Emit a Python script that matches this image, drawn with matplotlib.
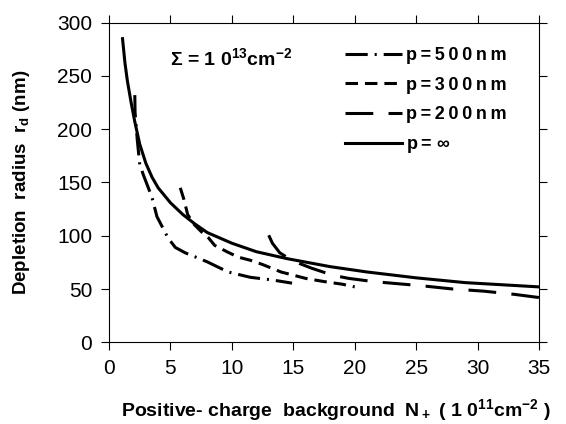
import matplotlib
matplotlib.use('Agg')
import matplotlib.pyplot as plt

plt.rcParams['font.family'] = ['Liberation Sans', 'DejaVu Sans']
plt.rcParams['mathtext.default'] = 'regular'
plt.rcParams['lines.scale_dashes'] = False

# p = infinity (solid)
x_inf = [1.1, 1.3, 1.5, 1.8, 2.1, 2.5, 3.0, 3.5, 4.0, 5.0, 6.0, 7.0, 8.0,
         10.0, 12.0, 14.5, 18.0, 21.0, 25.0, 29.0, 35.0]
y_inf = [285, 262, 245, 225, 207, 186, 168, 155, 145, 131, 120, 111, 103,
         93, 85, 78.5, 71, 66, 60.5, 56, 52]

# p = 500 nm (dash-dot)
x_500 = [2.1, 2.12, 2.3, 2.5, 2.8, 3.5, 3.9, 4.8, 5.4, 6.2, 8.0, 8.8, 9.7,
         11.5, 13.3, 14.9]
y_500 = [232, 216, 190, 167, 157, 136, 118, 98, 89, 84, 75.5, 71, 66,
         61, 58.5, 55.5]

# p = 300 nm (short dash)
x_300 = [5.8, 6.1, 6.4, 6.9, 7.5, 8.1, 8.6, 9.6, 10.5, 11.5, 12.5, 14.0,
         15.0, 16.0, 17.5, 19.0, 20.0]
y_300 = [145, 134, 120, 111, 104, 98, 91, 85, 80, 77, 73, 66,
         63, 60, 57, 54.5, 52]

# p = 200 nm (long dash)
x_200 = [13.0, 13.3, 13.9, 14.6, 15.5, 16.5, 18.2, 19.5, 21.5, 23.5, 25.5,
         28.0, 30.5, 33.0, 35.0]
y_200 = [100.5, 93, 84, 79, 74, 69.5, 63, 60, 57, 55, 53,
         50, 48, 45, 42]

xticks = [0, 5, 10, 15, 20, 25, 30, 35]
yticks = [0, 50, 100, 150, 200, 250, 300]

TS = '\u2009'   # thin space, the original print is letter-spaced


def spaced(s):
    return TS.join(s)


fig = plt.figure(figsize=(5.66, 4.24), dpi=100)
ax = fig.add_axes([0.1926, 0.1927, 0.7597, 0.7538])

lw = 2.2
ax.plot(x_500, y_500, color='black', lw=lw, dashes=(16, 5, 1.5, 5),
        label=spaced('p=500nm'))
ax.plot(x_300, y_300, color='black', lw=lw, dashes=(9, 5),
        label=spaced('p=300nm'))
ax.plot(x_200, y_200, color='black', lw=lw, dashes=(20, 11),
        label=spaced('p=200nm'))
ax.plot(x_inf, y_inf, color='black', lw=lw,
        label=spaced('p=') + ' $\\infty$')

ax.set_xlim(0, 35)
ax.set_ylim(0, 300)
ax.set_xticks(xticks)
ax.set_yticks(yticks)
ax.tick_params(direction='out', length=6, width=0.8, labelsize=15,
               top=True, right=True, pad=6)
for s in ax.spines.values():
    s.set_linewidth(0.8)

ax.set_xlabel('Positive- charge  background  N$_+$ ( 1 0$^{1 1}$cm$^{- 2}$ )',
              fontsize=14, fontweight='bold')
ax.xaxis.set_label_coords(0.528, -0.172)
ax.set_ylabel('Depletion  radius  r$_d$ (nm)', fontsize=13.5,
              fontweight='bold')
ax.yaxis.set_label_coords(-0.18, 0.5)

ax.text(5.0, 267, '$\\Sigma$ = 1 0$^{1 3}$cm$^{- 2}$', fontsize=14,
        fontweight='bold', va='center')

ax.legend(loc='upper left', bbox_to_anchor=(0.51, 0.975), frameon=False,
          handlelength=3.2, handletextpad=0.2, labelspacing=0.7,
          prop={'weight': 'bold', 'size': 13})

fig.savefig('out.png', dpi=100)
